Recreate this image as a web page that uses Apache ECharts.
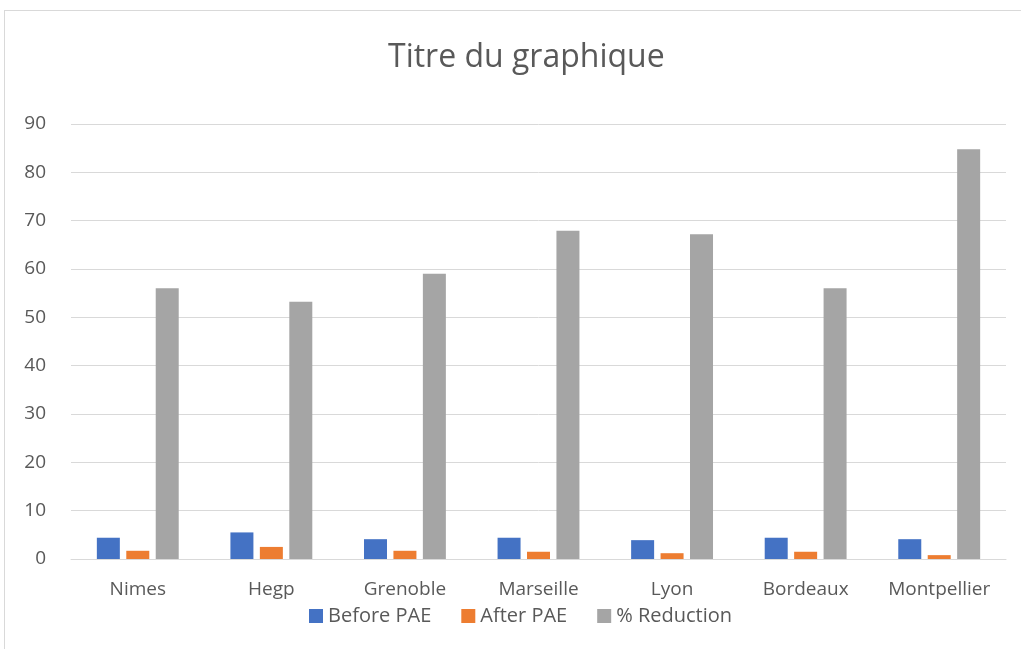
<!DOCTYPE html>
<html><head><meta charset="utf-8">
<script src="https://cdn.jsdelivr.net/npm/echarts@6/dist/echarts.min.js"></script>
<style>
html,body{margin:0;padding:0;background:#fff;overflow:hidden;}
#frame{position:absolute;left:4px;top:10px;width:1040px;height:680px;border:1px solid #d9d9d9;box-sizing:border-box;}
#c{position:absolute;left:0;top:0;width:1021px;height:649px;}
</style></head>
<body><div id="frame"></div><div id="c"></div>
<script>
const categories = ['Nimes','Hegp','Grenoble','Marseille','Lyon','Bordeaux','Montpellier'];
const beforePAE = [4.4, 5.5, 4.1, 4.4, 3.9, 4.4, 4.1];
const afterPAE = [1.7, 2.5, 1.7, 1.5, 1.2, 1.5, 0.8];
const reduction = [56, 53.2, 59, 67.9, 67.2, 56, 84.8];
const seriesNames = ['Before PAE','After PAE','% Reduction'];
const colors = ['#4472C4','#ED7D31','#A5A5A5'];
const font = '"Open Sans", "Liberation Sans", sans-serif';
const chart = echarts.init(document.getElementById('c'));
const mk = (name, data, i) => ({name, type:'bar', data, itemStyle:{color:colors[i]}, barWidth:23, barGap:'28%', barCategoryGap:'38%'});
chart.setOption({
  animation:false,
  title:{text:'Titre du graphique', left:383, top:37, textStyle:{fontFamily:font, fontSize:32, fontWeight:'normal', color:'#595959'}},
  legend:{data:seriesNames, top:606, left:309, itemWidth:14, itemHeight:14, itemGap:30, icon:'rect', padding:0,
    textStyle:{fontFamily:font, fontSize:20, color:'#595959'}},
  grid:{left:71, right:15, top:124, bottom:90},
  xAxis:{type:'category', data:categories, axisTick:{show:false}, axisLine:{lineStyle:{color:'#d9d9d9'}},
    axisLabel:{interval:0, fontFamily:font, fontSize:19, color:'#595959', margin:21}},
  yAxis:{type:'value', min:0, max:90, interval:10, axisLine:{show:false}, axisTick:{show:false},
    splitLine:{lineStyle:{color:'#d9d9d9'}}, axisLabel:{fontFamily:font, fontSize:19, color:'#595959', margin:25}},
  series:[mk(seriesNames[0], beforePAE,0), mk(seriesNames[1], afterPAE,1), mk(seriesNames[2], reduction,2)]
});
</script></body></html>
